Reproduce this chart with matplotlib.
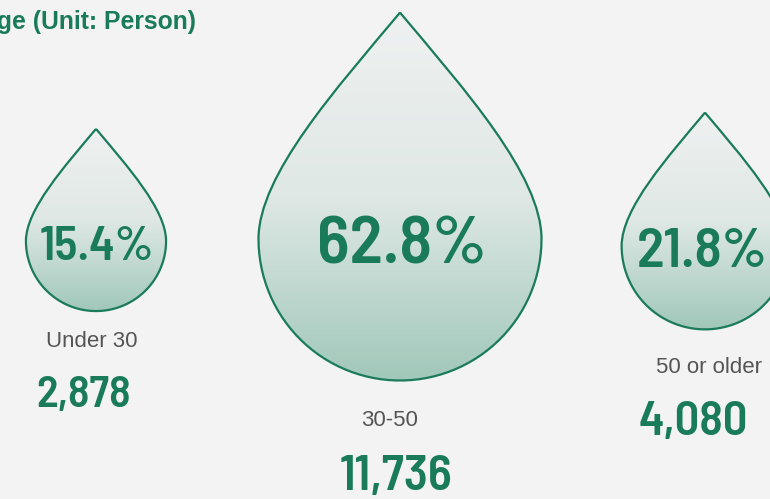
import numpy as np
import matplotlib.pyplot as plt
from matplotlib.path import Path
from matplotlib.patches import PathPatch
from matplotlib.colors import LinearSegmentedColormap

groups = ['Under 30', '30-50', '50 or older']
people = [2878, 11736, 4080]
shares = [15.4, 62.8, 21.8]

GREEN = '#1a7b5b'
GRAY = '#555555'
BG = '#f2f3f2'
NARROW = ['Barlow Semi Condensed', 'Barlow Condensed', 'DejaVu Sans']

fill_cmap = LinearSegmentedColormap.from_list('drop', ['#eff1f1', '#dfe8e5', '#a1c8ba'])


def drop_path(cx, cy, r, h):
    # pointed top, round bottom; h = distance tip -> circle centre
    tip = (cx, cy - h)
    d = np.array([np.sin(np.radians(40)), np.cos(np.radians(40))])
    t = 0.7 * r
    verts = [tip,
             (cx + d[0] * t, cy - h + d[1] * t), (cx + r, cy - 0.45 * r), (cx + r, cy)]
    codes = [Path.MOVETO, Path.CURVE4, Path.CURVE4, Path.CURVE4]
    a = np.linspace(0, np.pi, 60)
    for ang in a[1:]:
        verts.append((cx + r * np.cos(ang), cy + r * np.sin(ang)))
        codes.append(Path.LINETO)
    verts += [(cx - r, cy - 0.45 * r), (cx - d[0] * t, cy - h + d[1] * t), tip]
    codes += [Path.CURVE4, Path.CURVE4, Path.CURVE4]
    return Path(verts, codes)


fig = plt.figure(figsize=(7.7, 4.99), dpi=100, facecolor=BG)
ax = fig.add_axes([0, 0, 1, 1])
ax.set_facecolor(BG)

# layout of the three drops
centers = [(96, 241), (400, 239), (705, 246)]
r_max = 141.5
grad = np.linspace(0, 1, 256).reshape(-1, 1)

for (cx, cy), s in zip(centers, shares):
    r = r_max * np.sqrt(s / max(shares))
    h = 1.6 * r
    path = drop_path(cx, cy, r, h)
    patch = PathPatch(path, facecolor='none', edgecolor=GREEN, lw=1.6, zorder=3)
    ax.add_patch(patch)
    im = ax.imshow(grad, cmap=fill_cmap, aspect='auto', origin='upper',
                   extent=[cx - r, cx + r, cy + r, cy - h], zorder=2)
    im.set_clip_path(patch)


def big_text(x, y, s, size, ha='center'):
    ax.text(x, y, s, ha=ha, va='baseline', fontsize=size, fontweight=600,
            family=NARROW, color=GREEN, zorder=4)


# percentages inside the drops (x, baseline y)
pct_pos = [(97, 260, 'center', 35), (402, 263, 'center', 49), (637, 267, 'left', 40.5)]
for (x, y, ha, fs), s in zip(pct_pos, shares):
    big_text(x, y, f'{s:.1f}%', fs, ha)

# group names and head counts
label_pos = [(92, 347), (390, 426), (709, 373)]
count_pos = [(84, 407), (396, 490), (693, 435)]
count_fs = [32, 36, 35]
for (lx, ly), (nx, ny), fs, g, n in zip(label_pos, count_pos, count_fs, groups, people):
    ax.text(lx, ly, g, ha='center', va='baseline', fontsize=16, color=GRAY,
            family='Liberation Sans')
    big_text(nx, ny, f'{n:,}', fs)

ax.text(196, 22, 'Age (Unit: Person)', ha='right', va='center', fontsize=17.8,
        fontweight='bold', color=GREEN, family='Liberation Sans')

ax.set_xlim(0, 770)
ax.set_ylim(499, 0)
ax.axis('off')

fig.savefig('out.png', dpi=100, facecolor=BG)
